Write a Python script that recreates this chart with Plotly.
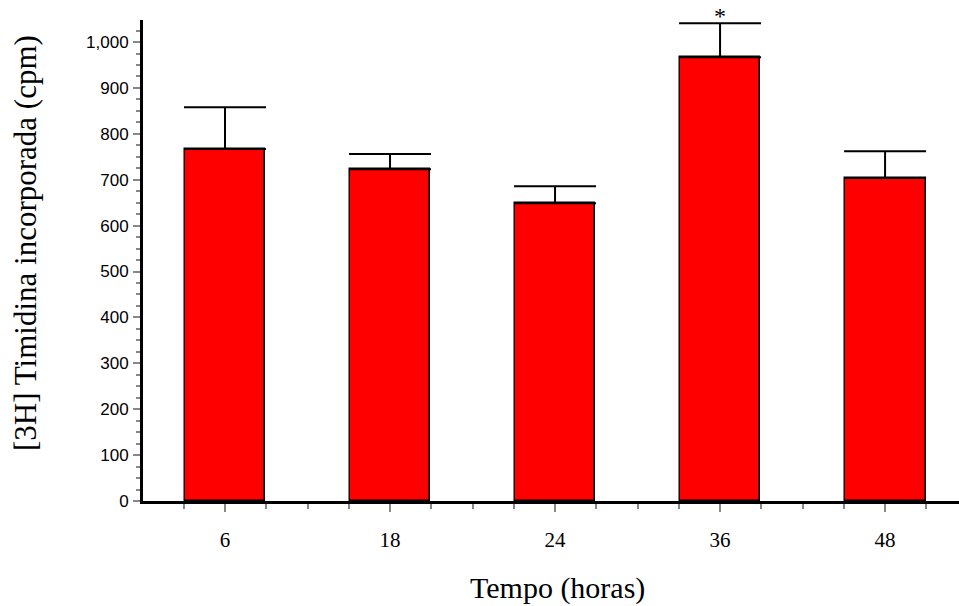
import plotly.graph_objects as go

categories = ["6", "18", "24", "36", "48"]
means = [767, 723, 649, 967, 704]
err_plus = [91, 33, 37, 74, 58]
y_ticks = [0, 100, 200, 300, 400, 500, 600, 700, 800, 900, 1000]

xpos = list(range(len(categories)))

fig = go.Figure()
fig.add_trace(go.Bar(
    x=xpos, y=means, width=0.49,
    marker=dict(color="#FF0000", line=dict(color="#000000", width=1.5)),
    error_y=dict(type="data", symmetric=False, array=err_plus,
                 arrayminus=[0] * len(means), color="#000000",
                 thickness=2, width=41),
    showlegend=False,
))

fig.update_layout(
    width=959, height=606,
    margin=dict(l=143, r=0, t=20, b=105),
    plot_bgcolor="white", paper_bgcolor="white",
    bargap=0,
    xaxis=dict(
        range=[-0.497, 4.448],
        tickvals=xpos, ticktext=categories,
        ticks="outside", ticklen=8, tickwidth=1.5, tickcolor="#888888",
        tickfont=dict(family="Liberation Serif, Times New Roman, serif", size=21, color="black"),
        ticklabelstandoff=10,
        showline=True, linecolor="black", linewidth=3,
        showgrid=False, zeroline=False,
        minor=dict(dtick=0.25, tick0=0, ticks="outside", ticklen=5,
                   tickwidth=1.5, tickcolor="#888888", showgrid=False),
    ),
    yaxis=dict(
        range=[0, 1048],
        tickvals=y_ticks, tickformat=",d",
        ticks="outside", ticklen=7, tickwidth=1.5, tickcolor="#888888",
        tickfont=dict(family="Liberation Sans, Arial, sans-serif", size=17, color="black"),
        ticklabelstandoff=1,
        showline=True, linecolor="black", linewidth=3,
        showgrid=False, zeroline=False,
        minor=dict(dtick=25, tick0=0, ticks="outside", ticklen=4,
                   tickwidth=1.5, tickcolor="#888888", showgrid=False),
    ),
    annotations=[
        dict(text="Tempo (horas)", xref="paper", yref="paper",
             x=(557 - 143) / 816, y=-(588 - 501) / 481,
             xanchor="center", yanchor="middle", showarrow=False,
             font=dict(family="Liberation Serif, Times New Roman, serif", size=30, color="black")),
        dict(text="[3H] Timidina incorporada (cpm)", xref="paper", yref="paper",
             x=(26 - 143) / 816, y=(501 - 243) / 481, textangle=-90,
             xanchor="center", yanchor="middle", showarrow=False,
             font=dict(family="Liberation Serif, Times New Roman, serif", size=31, color="black")),
        dict(text="*", xref="x", yref="paper", x=3, y=(501 - 1) / 481,
             xanchor="center", yanchor="top", showarrow=False,
             font=dict(family="Liberation Serif, Times New Roman, serif", size=24, color="black")),
    ],
)

fig.write_html("out.html")
